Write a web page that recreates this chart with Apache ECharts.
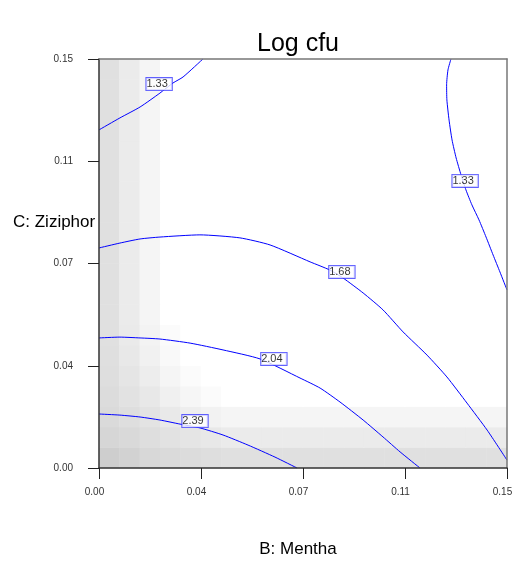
<!DOCTYPE html>
<html>
<head>
<meta charset="utf-8">
<script src="https://cdn.jsdelivr.net/npm/echarts@6/dist/echarts.min.js"></script>
<style>
  html, body { margin: 0; padding: 0; background: #fff; }
  #chart { width: 514px; height: 561px; }
</style>
</head>
<body>
<div id="chart"></div>
<script>
// tick labels shown on both axes (B: Mentha / C: Ziziphora)
var tickLabels = ['0.00', '0.04', '0.07', '0.11', '0.15'];

// contour lines, [B, C] pairs
var c133a = [[0, 0.1240], [0.0077, 0.1284], [0.0151, 0.1324], [0.0224, 0.1375], [0.0272, 0.1412], [0.0309, 0.1434], [0.0382, 0.15]];
var c133b = [[0.1294, 0.15], [0.1283, 0.1460], [0.1278, 0.1405], [0.1279, 0.1350], [0.1287, 0.1276], [0.1298, 0.1203],
  [0.1313, 0.1137], [0.1331, 0.1075], [0.1349, 0.1020], [0.1371, 0.0965], [0.1397, 0.0910], [0.1423, 0.0847],
  [0.1449, 0.0781], [0.1474, 0.0719], [0.15, 0.0653]];
var c168 = [[0, 0.0807], [0.0077, 0.0825], [0.0151, 0.0840], [0.0224, 0.0847], [0.0371, 0.0855], [0.0518, 0.0844],
  [0.0629, 0.0818], [0.0776, 0.0756], [0.0849, 0.0726], [0.0897, 0.0697], [0.0971, 0.0642], [0.1044, 0.0580],
  [0.1118, 0.0499], [0.1206, 0.0414], [0.1279, 0.0334], [0.1353, 0.0238], [0.1427, 0.0139], [0.15, 0.0029]];
var c204 = [[0, 0.0477], [0.0077, 0.0480], [0.0151, 0.0477], [0.0224, 0.0473], [0.0335, 0.0458], [0.0456, 0.0433],
  [0.0592, 0.0400], [0.0739, 0.0330], [0.0813, 0.0293], [0.0886, 0.0242], [0.0971, 0.0176], [0.1044, 0.0114],
  [0.1107, 0.0059], [0.1180, 0]];
var c239 = [[0, 0.0198], [0.0077, 0.0194], [0.0151, 0.0187], [0.0224, 0.0176], [0.0298, 0.0161], [0.0371, 0.0147],
  [0.0456, 0.0121], [0.0548, 0.0084], [0.0647, 0.0040], [0.0728, 0]];

// contour label anchors [B, C, level]
var contourLabels = [[0.0221, 0.1408, '1.33'], [0.1346, 0.1053, '1.33'], [0.0893, 0.0719, '1.68'],
  [0.0643, 0.0400, '2.04'], [0.0353, 0.0172, '2.39']];

// background shading (darkness) on a 20 x 20 cell grid
var cornerShade = [ // rows from bottom, columns from left
  [49, 45, 39, 37, 35, 33, 31],
  [41, 38, 33, 29, 26, 23, 20],
  [37, 33, 28, 22, 17, 13, 10],
  [35, 29, 23, 15, 9, 4, 0],
  [33, 26, 18, 10, 4, 0, 0],
  [32, 23, 14, 6, 0, 0, 0],
  [31, 21, 12, 4, 0, 0, 0]
];
var leftStripShade = [31, 20, 10];   // columns 0..2 above the corner
var bottomStripShade = [31, 20, 10]; // rows 0..2 right of the corner

var nCells = 20;
var cellIdx = [];
for (var i = 0; i < nCells; i++) cellIdx.push(i);

var shadeData = [];
for (var r = 0; r < nCells; r++) {
  for (var c = 0; c < nCells; c++) {
    var v = 0;
    if (r < cornerShade.length && c < cornerShade[0].length) v = cornerShade[r][c];
    else if (r >= cornerShade.length && c < leftStripShade.length) v = leftStripShade[c];
    else if (c >= cornerShade[0].length && r < bottomStripShade.length) v = bottomStripShade[r];
    shadeData.push([c, r, v]);
  }
}

var chart = echarts.init(document.getElementById('chart'));

function contour(data) {
  return {
    type: 'line',
    data: data,
    showSymbol: false,
    smooth: 0.2,
    zlevel: 1,
    z: 3,
    lineStyle: { color: '#0000ff', width: 1 },
    itemStyle: { color: '#0000ff' },
    silent: true
  };
}

var font = 'Liberation Sans, Arial, sans-serif';

var option = {
  backgroundColor: '#fff',
  animation: false,
  title: [{
    text: 'Log cfu',
    left: 252,
    top: 27,
    textStyle: { fontSize: 25, fontWeight: 'normal', color: '#000', fontFamily: font }
  }, {
    // y axis name, cut off by the plot like the original
    text: 'C: Ziziphora',
    left: 8,
    top: 209,
    zlevel: 0,
    z: 0,
    textStyle: { fontSize: 17, fontWeight: 'normal', color: '#000', fontFamily: font,
      width: 86, overflow: 'truncate', ellipsis: '' }
  }],
  grid: { left: 99, right: 7, top: 59, bottom: 93, outerBoundsMode: 'none' },
  visualMap: {
    show: false,
    seriesIndex: 0,
    min: 0,
    max: 51,
    inRange: { color: ['#ffffff', '#cccccc'] }
  },
  xAxis: [{
    type: 'value',
    min: 0,
    max: 0.15,
    interval: 0.0375,
    zlevel: 1,
    z: 5,
    name: 'B: Mentha',
    nameLocation: 'middle',
    nameGap: 73,
    nameTextStyle: { fontSize: 17, color: '#000', fontFamily: font, padding: [0, 10, 0, 0] },
    axisLine: { lineStyle: { color: '#333', width: 1.5 } },
    axisTick: { show: true, length: 11, lineStyle: { color: '#222' } },
    axisLabel: { margin: 19, fontSize: 10, color: '#333', fontFamily: font, padding: [0, 9, 0, 0],
      formatter: function (v, i) { return tickLabels[i]; } },
    splitLine: { show: false }
  }, {
    type: 'category',
    data: cellIdx,
    position: 'top',
    zlevel: 1,
    z: 5,
    axisLine: { show: true, lineStyle: { color: '#777', width: 1.5 } },
    axisTick: { show: false },
    axisLabel: { show: false },
    splitLine: { show: false }
  }],
  yAxis: [{
    type: 'value',
    min: 0,
    max: 0.15,
    interval: 0.0375,
    zlevel: 1,
    z: 5,
    axisLine: { show: true, lineStyle: { color: '#333', width: 1.5 } },
    axisTick: { show: true, length: 11, lineStyle: { color: '#222' } },
    axisLabel: { margin: 26, fontSize: 10, color: '#333', fontFamily: font,
      formatter: function (v, i) { return tickLabels[i]; } },
    splitLine: { show: false }
  }, {
    type: 'category',
    data: cellIdx,
    position: 'right',
    zlevel: 1,
    z: 5,
    axisLine: { show: true, lineStyle: { color: '#777', width: 1.5 } },
    axisTick: { show: false },
    axisLabel: { show: false },
    splitLine: { show: false }
  }],
  series: [{
    type: 'heatmap',
    xAxisIndex: 1,
    yAxisIndex: 1,
    data: shadeData,
    zlevel: 1,
    z: 1,
    silent: true
  },
  contour(c133a),
  contour(c133b),
  contour(c168),
  contour(c204),
  contour(c239),
  {
    type: 'scatter',
    data: contourLabels,
    symbolSize: 0,
    zlevel: 1,
    z: 4,
    silent: true,
    label: {
      show: true,
      position: 'inside',
      formatter: function (p) { return p.value[2]; },
      color: '#000',
      fontSize: 11,
      fontFamily: font,
      backgroundColor: '#fff',
      borderColor: '#3a3aff',
      borderWidth: 1,
      padding: [1, 4, 0, 0]
    }
  }]
};

chart.setOption(option);
</script>
</body>
</html>
